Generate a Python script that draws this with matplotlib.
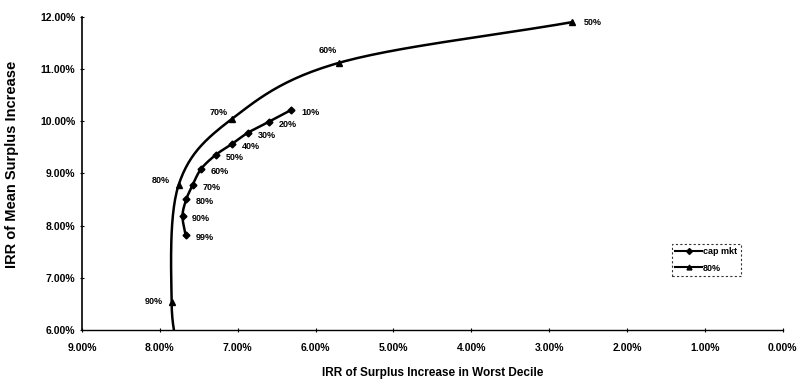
import numpy as np
import matplotlib.pyplot as plt
from matplotlib.ticker import FuncFormatter

plt.rcParams['font.family'] = ['Liberation Sans', 'DejaVu Sans']

# cap mkt frontier (worst decile IRR %, mean IRR %)
cap_labels = ['10%', '20%', '30%', '40%', '50%', '60%', '70%', '80%', '90%', '99%']
cap_x = [6.31, 6.60, 6.87, 7.07, 7.28, 7.47, 7.58, 7.66, 7.71, 7.67]
cap_y = [10.22, 9.99, 9.78, 9.57, 9.36, 9.09, 8.78, 8.51, 8.19, 7.82]

# 80% series
s80_labels = ['50%', '60%', '70%', '80%', '90%', '']
s80_x = [2.70, 5.70, 7.08, 7.76, 7.85, 7.74]
s80_y = [11.90, 11.12, 10.04, 8.78, 6.54, 5.40]

x_ticks = [9, 8, 7, 6, 5, 4, 3, 2, 1, 0]
y_ticks = [6, 7, 8, 9, 10, 11, 12]


def smooth(xs, ys, n=30):
    # Catmull-Rom spline through the points, like Excel's smoothed line
    p = np.column_stack([xs, ys]).astype(float)
    p = np.vstack([2 * p[0] - p[1], p, 2 * p[-1] - p[-2]])
    out = []
    t = np.linspace(0, 1, n)[:, None]
    for i in range(1, len(p) - 2):
        p0, p1, p2, p3 = p[i - 1], p[i], p[i + 1], p[i + 2]
        seg = 0.5 * ((2 * p1) + (-p0 + p2) * t +
                     (2 * p0 - 5 * p1 + 4 * p2 - p3) * t ** 2 +
                     (-p0 + 3 * p1 - 3 * p2 + p3) * t ** 3)
        out.append(seg)
    out = np.vstack(out)
    return out[:, 0], out[:, 1]


fig = plt.figure(figsize=(7.97, 3.83), dpi=100)
ax = fig.add_axes([0.103, 0.138, 0.879, 0.818])

sx, sy = smooth(cap_x, cap_y)
ax.plot(sx, sy, color='black', lw=1.8)
ax.plot(cap_x, cap_y, ls='none', marker='D', ms=3.5, color='black')
for lab, x, y in zip(cap_labels, cap_x, cap_y):
    ax.annotate(lab, (x, y), xytext=(7, -2), textcoords='offset points',
                ha='left', va='center', fontsize=6.5, fontweight='bold')

sx, sy = smooth(s80_x, s80_y)
ax.plot(sx, sy, color='black', lw=1.8)
ax.plot(s80_x, s80_y, ls='none', marker='^', ms=4, color='black')
offsets = [(8, 0, 'left'), (-8, 9, 'center'), (-9, 5, 'center'),
           (-6, 3, 'right'), (-6, 0, 'right'), (0, 0, 'left')]
for lab, x, y, (dx, dy, ha) in zip(s80_labels, s80_x, s80_y, offsets):
    if lab:
        ax.annotate(lab, (x, y), xytext=(dx, dy), textcoords='offset points',
                    ha=ha, va='center', fontsize=6.5, fontweight='bold')

# legend proxies
ax.plot([], [], color='black', lw=1.5, marker='D', ms=3, label='cap mkt')
ax.plot([], [], color='black', lw=1.5, marker='^', ms=3.5, label='80%')
handles, labels = ax.get_legend_handles_labels()
leg = ax.legend(handles[-2:], labels[-2:], loc='upper left',
                bbox_to_anchor=(0.835, 0.29), frameon=True,
                handlelength=3, handletextpad=0.1, borderpad=0.4,
                labelspacing=0.8, fancybox=False,
                prop={'weight': 'bold', 'size': 6.5})
leg.get_frame().set_edgecolor('black')
leg.get_frame().set_linestyle((0, (2, 2)))
leg.get_frame().set_linewidth(0.8)

ax.set_xlim(9, 0)
ax.set_ylim(6, 12)
ax.set_xticks(x_ticks)
ax.set_yticks(y_ticks)
pct = FuncFormatter(lambda v, _: '%.2f%%' % v)
ax.xaxis.set_major_formatter(pct)
ax.yaxis.set_major_formatter(pct)
ax.tick_params(axis='both', labelsize=7.5, direction='inout', length=3, width=0.8)
for t in ax.get_xticklabels() + ax.get_yticklabels():
    t.set_fontweight('bold')
ax.tick_params(axis='x', pad=8)

ax.spines['top'].set_visible(False)
ax.spines['right'].set_visible(False)
ax.spines['left'].set_linewidth(1.2)
ax.spines['bottom'].set_linewidth(1.0)

ax.set_xlabel('IRR of Surplus Increase in Worst Decile', fontsize=8.5,
              fontweight='bold', labelpad=10)
ax.set_ylabel('IRR of Mean Surplus Increase', fontsize=10.5,
              fontweight='bold')
ax.yaxis.set_label_coords(-0.09, 0.53)

fig.savefig('out.png', dpi=100)
